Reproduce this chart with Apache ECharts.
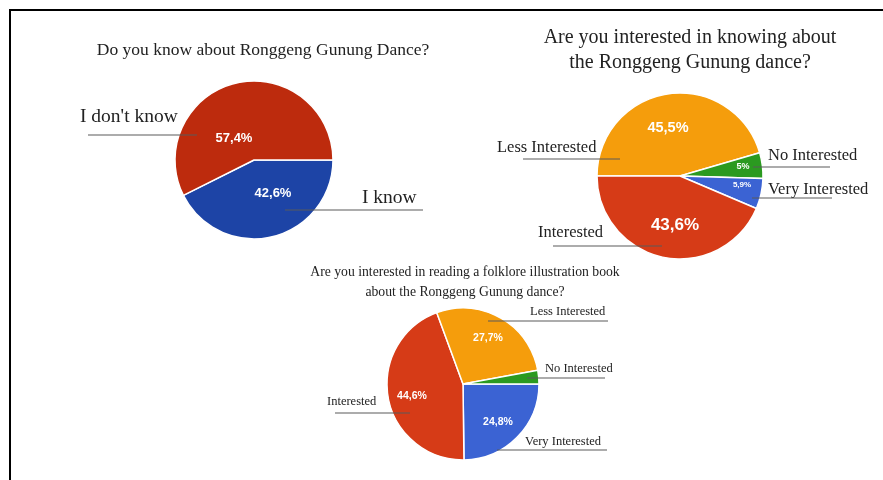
<!DOCTYPE html>
<html><head><meta charset="utf-8">
<script src="https://cdn.jsdelivr.net/npm/echarts@6/dist/echarts.min.js"></script>
<style>html,body{margin:0;padding:0;background:#fff}#c{width:883px;height:480px}</style>
</head><body><div id="c"></div>
<script>
// ---- Data ----
const c1Title = ['Do you know about Ronggeng Gunung Dance?'];
const c1Categories = ['I know', "I don't know"];
const c1Values = [42.6, 57.4];

const c2Title = ['Are you interested in knowing about', 'the Ronggeng Gunung dance?'];
const c2Categories = ['Less Interested', 'No Interested', 'Very Interested', 'Interested'];
const c2Values = [45.5, 5, 5.9, 43.6];

const c3Title = ['Are you interested in reading a folklore illustration book', 'about the Ronggeng Gunung dance?'];
const c3Categories = ['Very Interested', 'Interested', 'Less Interested', 'No Interested'];
const c3Values = [24.8, 44.6, 27.7, 2.9];

// ---- Layout / style ----
const RED1 = '#bd2b0d', BLUE1 = '#1d44a6';
const ORANGE = '#f59d0c', GREEN = '#2b9a20', BLUE = '#3b63d3', RED = '#d63b17';

const pies = [
  { cats: c1Categories, vals: c1Values, title: c1Title,
    center: [254, 160], r: 79, start: 0, colors: [BLUE1, RED1],
    titleX: 263, titleY: [50], titleSize: 17.5, labelSize: 19.5,
    inner: [[273, 193, 13], [234, 138, 13]],
    outer: [[362, 198, 285, 423, 210], [80, 117, 88, 197, 135]] },
  { cats: c2Categories, vals: c2Values, title: c2Title,
    center: [680, 176], r: 83, start: 180, colors: [ORANGE, GREEN, BLUE, RED],
    titleX: 690, titleY: [38, 63], titleSize: 20, labelSize: 16.5,
    inner: [[668, 128, 14.5], [743, 167, 9], [742, 185, 8], [675, 225, 17]],
    outer: [[497, 148, 523, 620, 159], [768, 156, 753, 830, 167], [768, 190, 752, 832, 198], [538, 233, 553, 662, 246]] },
  { cats: c3Categories, vals: c3Values, title: c3Title,
    center: [463, 384], r: 76, start: 0, colors: [BLUE, RED, ORANGE, GREEN],
    titleX: 465, titleY: [272, 292], titleSize: 13.7, labelSize: 12.5,
    inner: [[498, 422, 10.5], [412, 396, 10.5], [488, 338, 10.5], [0, 0, 0]],
    outer: [[525, 442, 497, 607, 450], [327, 402, 335, 410, 413], [530, 312, 488, 608, 321], [545, 369, 527, 605, 378]] }
];

const series = [];
const graphic = [{
  type: 'rect', shape: { x: 10, y: 10, width: 900, height: 500 },
  style: { fill: 'none', stroke: '#000', lineWidth: 2 }, silent: true
}];

pies.forEach((p) => {
  const data = p.cats.map((c, i) => ({ name: c, value: p.vals[i], itemStyle: { color: p.colors[i] } }));
  series.push({
    type: 'pie', center: p.center, radius: [0, p.r], startAngle: p.start, clockwise: true,
    avoidLabelOverlap: false, animation: false, silent: true,
    itemStyle: { borderColor: '#fff', borderWidth: 1.5 },
    label: {
      show: true, position: 'inside', color: '#fff', fontFamily: 'Liberation Sans', fontWeight: 'bold',
      formatter: (d) => d.value < 3 ? '' : String(d.value).replace('.', ',') + '%'
    },
    labelLine: { show: false },
    labelLayout: (prm) => {
      const L = p.inner[prm.dataIndex];
      return { x: L[0], y: L[1], align: 'center', verticalAlign: 'middle', fontSize: L[2] };
    },
    data: data
  });
  series.push({
    type: 'pie', center: p.center, radius: [0, p.r], startAngle: p.start, clockwise: true,
    avoidLabelOverlap: false, animation: false, silent: true, z: 3,
    itemStyle: { color: 'rgba(0,0,0,0)', borderWidth: 0 },
    label: {
      show: true, position: 'outside', color: '#222', fontFamily: 'Liberation Serif',
      fontSize: p.labelSize, formatter: '{b}'
    },
    labelLine: { show: true, lineStyle: { color: '#5a5a5a', width: 1.2 } },
    labelLayout: (prm) => {
      const O = p.outer[prm.dataIndex];
      return {
        x: O[0], y: O[1], align: 'left', verticalAlign: 'middle',
        labelLinePoints: [[O[2], O[4]], [(O[2] + O[3]) / 2, O[4]], [O[3], O[4]]]
      };
    },
    data: p.cats.map((c, i) => ({ name: c, value: p.vals[i] }))
  });
  p.title.forEach((t, ti) => {
    graphic.push({
      type: 'text', x: p.titleX, y: p.titleY[ti], silent: true,
      style: { text: t, fill: '#222', font: p.titleSize + 'px "Liberation Serif"', align: 'center', verticalAlign: 'middle' }
    });
  });
});

const chart = echarts.init(document.getElementById('c'));
chart.setOption({ animation: false, backgroundColor: '#fff', series: series, graphic: graphic });
</script>
</body></html>
